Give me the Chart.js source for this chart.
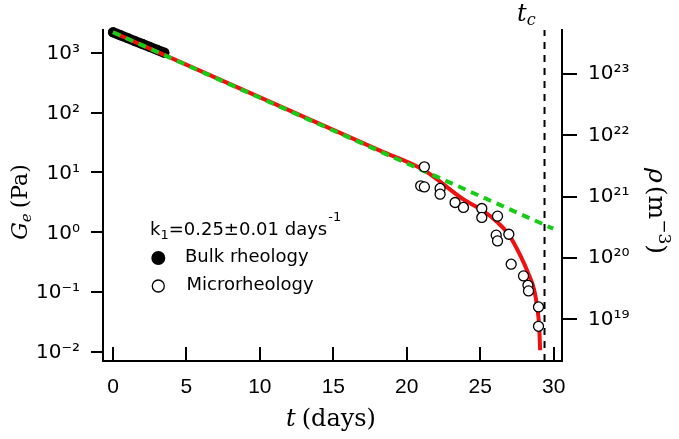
<!DOCTYPE html>
<html><head><meta charset="utf-8">
<script src="https://cdn.jsdelivr.net/npm/chart.js@4.4.1/dist/chart.umd.min.js"></script>
<style>html,body{margin:0;padding:0;background:#fff;overflow:hidden}#wrap{width:679px;height:439px;position:relative}</style>
</head><body><div id="wrap"><canvas id="c"></canvas></div>
<script>
// ---- data ----
const xTickValues = [0, 5, 10, 15, 20, 25, 30];
const leftDecades = [-2, -1, 0, 1, 2, 3];
const rightDecades = [19, 20, 21, 22, 23];

const bulkT = [0, 0.5, 1.0, 1.5, 2.0, 2.5, 3.0, 3.5];
const bulkG = [2200, 1960, 1750, 1560, 1400, 1250, 1120, 1000];

const microT = [21.20, 20.95, 21.20, 22.27, 22.27, 23.29, 23.86, 25.11, 25.11, 26.18, 26.09, 26.18, 26.95, 27.11, 27.95, 28.25, 28.29, 28.97, 28.97];
const microG = [12.4, 5.97, 5.74, 5.40, 4.34, 3.15, 2.60, 2.50, 1.77, 1.86, 0.895, 0.718, 0.929, 0.293, 0.187, 0.130, 0.105, 0.0566, 0.0269];

const redFitT = [0, 18.18, 21.18, 23.84, 25.13, 26.16, 26.97, 27.72, 28.27, 28.68, 28.88, 29.02, 29.08];
const redFitG = [2200, 23.2, 10.9, 3.57, 2.34, 1.48, 0.895, 0.414, 0.207, 0.108, 0.056, 0.0259, 0.0107];

const greenFitT = [0, 29.97];
const greenFitG = [2200, 1.15];

const tcDay = [29.38];

const legendK = ['k', '1', '=0.25\u00B10.01 days', '-1'];
const legendLabels = ['Bulk rheology', 'Microrheology'];

// ---- helpers ----
const SUP = {'0':'\u2070','1':'\u00B9','2':'\u00B2','3':'\u00B3','4':'\u2074','5':'\u2075','6':'\u2076','7':'\u2077','8':'\u2078','9':'\u2079','-':'\u207B'};
const sup = n => String(n).split('').map(c => SUP[c]).join('');
const pts = (xs, ys) => xs.map((x, i) => ({x: x, y: ys[i]}));
const yMin = Math.pow(10, -2.15), yMax = Math.pow(10, 3.38);

const xTickFont = {family: '"Liberation Sans", Arial, sans-serif', size: 21};
const yTickFont = {family: '"DejaVu Sans", sans-serif', size: 20};

const overlay = {
  id: 'overlay',
  afterDraw(chart) {
    const ctx = chart.ctx;
    ctx.save();
    ctx.fillStyle = '#000';
    ctx.textBaseline = 'alphabetic';
    ctx.textAlign = 'left';
    // legend
    const lf = '"DejaVu Sans", sans-serif';
    let x = 150, y = 235;
    ctx.font = '18px ' + lf; ctx.fillText(legendK[0], x, y); x += ctx.measureText(legendK[0]).width;
    ctx.font = '13px ' + lf; ctx.fillText(legendK[1], x, y + 4); x += ctx.measureText(legendK[1]).width;
    ctx.font = '18px ' + lf; ctx.fillText(legendK[2], x, y); x += ctx.measureText(legendK[2]).width + 1;
    ctx.font = '13px ' + lf; ctx.fillText(legendK[3], x, y - 14);
    ctx.font = '18px ' + lf;
    ctx.fillText(legendLabels[0], 185, 262);
    ctx.fillText(legendLabels[1], 186.5, 290);
    ctx.beginPath(); ctx.arc(158.3, 258, 7, 0, Math.PI * 2); ctx.fill();
    ctx.beginPath(); ctx.arc(158.3, 286, 6, 0, Math.PI * 2);
    ctx.fillStyle = '#fff'; ctx.fill(); ctx.lineWidth = 1.3; ctx.strokeStyle = '#000'; ctx.stroke();
    ctx.fillStyle = '#000';

    const sf = '"DejaVu Serif", "Liberation Serif", serif';
    function runs(parts, cx, cy, rot) {
      ctx.save();
      ctx.translate(cx, cy); ctx.rotate(rot);
      let w = 0;
      parts.forEach(p => { ctx.font = p.f; w += ctx.measureText(p.t).width + (p.g || 0); });
      let px = -w / 2;
      parts.forEach(p => { ctx.font = p.f; ctx.fillText(p.t, px, p.dy || 0); px += ctx.measureText(p.t).width + (p.g || 0); });
      ctx.restore();
    }
    // x title
    runs([
      {t: 't', f: 'italic 24px ' + sf, g: 6},
      {t: '(days)', f: '24px ' + sf}
    ], 331, 426, 0);
    // left title
    runs([
      {t: 'G', f: 'italic 22px ' + sf},
      {t: 'e', f: 'italic 15px ' + sf, dy: 4, g: 5},
      {t: '(Pa)', f: '22px ' + sf}
    ], 27, 202, -Math.PI / 2);
    // right title
    runs([
      {t: '\u03C1', f: 'italic 25px ' + sf, g: 3},
      {t: '(m', f: '25px ' + sf},
      {t: '\u22123', f: '17px ' + sf, dy: -10},
      {t: ')', f: '25px ' + sf}
    ], 649, 211, Math.PI / 2);
    // t_c label
    ctx.font = 'italic 24px ' + sf; ctx.fillText('t', 517, 21);
    const tw = ctx.measureText('t').width;
    ctx.font = 'italic 16px ' + sf; ctx.fillText('c', 517 + tw, 25);
    ctx.restore();
  }
};

new Chart(document.getElementById('c'), {
  type: 'line',
  data: {
    datasets: [
      {label: 'Microrheology', data: pts(microT, microG), showLine: false, pointRadius: 5, pointHoverRadius: 5,
       pointBackgroundColor: '#fff', pointBorderColor: '#000', pointBorderWidth: 1.3, order: 0, yAxisID: 'y'},
      {label: 'green fit', data: pts(greenFitT, greenFitG), borderColor: 'rgb(20,205,20)', borderWidth: 4,
       borderDash: [8, 6], pointRadius: 0, order: 1, yAxisID: 'y'},
      {label: 'red fit', data: pts(redFitT, redFitG), borderColor: 'rgb(240,16,16)', borderWidth: 4,
       cubicInterpolationMode: 'monotone', pointRadius: 0, order: 2, yAxisID: 'y'},
      {label: 'Bulk rheology', data: pts(bulkT, bulkG), borderColor: '#000', borderWidth: 10, borderCapStyle: 'round',
       pointRadius: 5, pointBackgroundColor: '#000', pointBorderWidth: 0, order: 3, clip: 12, yAxisID: 'y'},
      {label: 'tc', data: [{x: tcDay[0], y: yMin}, {x: tcDay[0], y: yMax}], borderColor: '#000', borderWidth: 2,
       borderDash: [7, 6], pointRadius: 0, order: 4, yAxisID: 'y'}
    ]
  },
  options: {
    responsive: true, maintainAspectRatio: false, animation: false, devicePixelRatio: 1,
    layout: {padding: {top: 30, left: 0, right: 0, bottom: 0}},
    plugins: {legend: {display: false}, tooltip: {enabled: false}},
    scales: {
      x: {
        type: 'linear', position: 'bottom', min: -0.68, max: 30.57,
        afterBuildTicks: s => { s.ticks = xTickValues.map(v => ({value: v})); },
        afterFit: s => { s.height = 78; },
        grid: {drawOnChartArea: false, tickLength: -14, color: '#000', lineWidth: 2},
        border: {color: '#000', width: 2},
        ticks: {color: '#000', font: xTickFont, padding: 28, maxRotation: 0, autoSkip: false}
      },
      y: {
        type: 'logarithmic', position: 'left', min: yMin, max: yMax,
        afterBuildTicks: s => { s.ticks = leftDecades.map(d => ({value: Math.pow(10, d)})); },
        afterFit: s => { s.width = 103; },
        grid: {drawOnChartArea: false, tickLength: 12, color: '#000', lineWidth: 2},
        border: {color: '#000', width: 2},
        ticks: {color: '#000', font: yTickFont, padding: 11, labelOffset: 1, autoSkip: false,
                callback: v => '10' + sup(Math.round(Math.log10(v)))}
      },
      y2: {
        type: 'logarithmic', position: 'right', min: Math.pow(10, 18.32), max: Math.pow(10, 23.72),
        afterBuildTicks: s => { s.ticks = rightDecades.map(d => ({value: Math.pow(10, d)})); },
        afterFit: s => { s.width = 117; },
        grid: {drawOnChartArea: false, tickLength: 15, color: '#000', lineWidth: 2},
        border: {color: '#000', width: 2},
        ticks: {color: '#000', font: yTickFont, padding: 11, labelOffset: 0, autoSkip: false,
                callback: v => '10' + sup(Math.round(Math.log10(v)))}
      }
    }
  },
  plugins: [overlay]
});
</script>
</body></html>
